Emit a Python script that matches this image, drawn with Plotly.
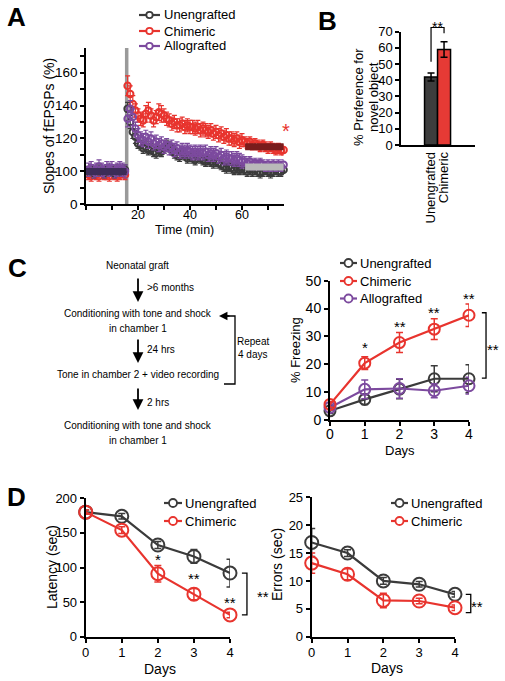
import plotly.graph_objects as go

W, H = 505, 681
FONT = "Liberation Sans, Arial, Helvetica, sans-serif"

C_UN = "#3b3b3b"
C_CH = "#e8342e"
C_AL = "#7c4a9e"

# ---------------- Panel A data (LTP time course) ----------------
series_names = ["Unengrafted", "Chimeric", "Allografted"]
t_base = list(range(1, 16))
t_post = list(range(16, 77))

ch_base = [98, 97, 99, 98, 97, 99, 98, 98, 97, 99, 98, 97, 98, 99, 98]
un_base = [100, 101, 99, 100, 101, 100, 99, 101, 100, 100, 99, 101, 100, 100, 101]
al_base = [101, 102, 100, 101, 103, 101, 100, 102, 101, 102, 100, 101, 102, 101, 100]

ch_post = [152, 147, 141, 137, 134, 132, 131, 135, 137, 134,
           131, 133, 136, 135, 134, 132, 131, 129, 130, 128,
           128, 129, 127, 128, 127, 127, 126, 127, 125, 126,
           125, 124, 125, 123, 124, 122, 123, 121, 122, 120,
           120, 119, 120, 118, 119, 118, 117, 118, 116, 117,
           116, 115, 116, 115, 114, 115, 114, 113, 114, 113, 113]
un_post = [138, 130, 124, 121, 117, 116, 114, 115, 113, 114,
           112, 111, 113, 112, 114, 116, 115, 113, 111, 110,
           109, 111, 110, 108, 109, 108, 107, 109, 108, 107,
           106, 107, 106, 105, 106, 105, 104, 103, 102, 103,
           102, 101, 102, 101, 102, 101, 100, 101, 100, 101,
           100, 99, 100, 101, 100, 99, 100, 101, 100, 100, 101]
al_post = [132, 138, 133, 126, 122, 120, 119, 121, 118, 120,
           117, 118, 116, 117, 115, 116, 114, 115, 113, 114,
           112, 113, 112, 113, 112, 111, 112, 111, 112, 111,
           112, 110, 111, 110, 111, 109, 110, 108, 109, 108,
           108, 107, 108, 107, 106, 106, 105, 106, 104, 105,
           104, 105, 104, 103, 104, 103, 104, 103, 104, 103, 104]

ch_base_err = [3] * 15
un_base_err = [3] * 15
al_base_err = [4] * 15
ch_post_err = [6, 5, 5, 4, 4, 4, 4, 5, 5, 4, 4, 4, 5, 5, 4, 4, 4, 4, 4, 4,
               4, 4, 4, 4, 4, 4, 4, 4, 4, 4, 4, 4, 4, 4, 4, 4, 4, 4, 4, 4,
               4, 4, 4, 4, 4, 3, 3, 3, 3, 3, 3, 3, 3, 3, 3, 3, 3, 3, 3, 3, 3]
un_post_err = [4, 4, 4, 4, 3, 3, 3, 3, 3, 3, 3, 3, 3, 3, 3, 3, 3, 3, 3, 3,
               3, 3, 3, 3, 3, 3, 3, 3, 3, 3, 3, 3, 3, 3, 3, 3, 3, 3, 3, 3,
               3, 3, 3, 3, 3, 3, 3, 3, 3, 3, 3, 3, 3, 3, 3, 3, 3, 3, 3, 3, 3]
al_post_err = [5, 5, 5, 4, 4, 4, 4, 4, 4, 4, 4, 4, 4, 4, 4, 4, 4, 4, 4, 4,
               4, 4, 4, 4, 4, 4, 4, 4, 4, 4, 4, 4, 4, 4, 4, 4, 4, 4, 4, 4,
               4, 4, 4, 4, 4, 3, 3, 3, 3, 3, 3, 3, 3, 3, 3, 3, 3, 3, 3, 3, 3]

# summary bars: (start, end, level)
base_bar = (0, 15.6, 100)
ch_end_bar = (61.2, 76.8, 115)
un_end_bar = (61.2, 76.8, 102.7)
tetanus_time = 15.65
a_star = (77.0, 126.5)

a_ytick_vals = [80, 90, 100, 110, 120, 130, 140, 150, 160, 170]
a_ytick_text = ["0", "", "100", "", "120", "", "140", "", "160", ""]
a_xtick_vals = [0, 10, 20, 30, 40, 50, 60, 70]
a_xtick_text = ["", "", "20", "", "40", "", "60", ""]

# ---------------- Panel B data ----------------
b_groups = ["Unengrafted", "Chimeric"]
b_values = [42, 59]
b_errors = [2.5, 4.8]

# ---------------- Panel C data ----------------
days = [0, 1, 2, 3, 4]
c_un = [3.3, 7.4, 11.1, 14.8, 14.8]
c_un_err = [1.0, 1.8, 3.5, 4.7, 5.0]
c_ch = [5.6, 20.4, 27.8, 32.6, 37.6]
c_ch_err = [1.0, 2.3, 3.6, 3.7, 4.0]
c_al = [4.5, 11.0, 11.3, 10.5, 12.3]
c_al_err = [1.0, 3.4, 3.5, 2.5, 3.0]
c_stars = ["", "*", "**", "**", "**"]
c_star_y = [None, 26.2, 33.7, 38.7, 43.7]

# ---------------- Panel D data ----------------
d_lat_un = [180, 174, 132.5, 116, 92]
d_lat_un_err = [3, 4, 5, 10, 20]
d_lat_ch = [180, 154, 91, 61.5, 31.5]
d_lat_ch_err = [3, 5, 12, 8, 4]
d_lat_stars = ["", "", "*", "**", "**"]
d_lat_star_y = [None, None, 112, 83.5, 49]

d_err_un = [16.9, 15.0, 10.0, 9.4, 7.6]
d_err_un_err = [2.5, 0.6, 0.6, 0.5, 0.5]
d_err_ch = [13.2, 11.2, 6.5, 6.4, 5.2]
d_err_ch_err = [1.8, 1.0, 1.3, 0.5, 0.5]

# ---------------- layout helpers ----------------
def px(x):
    return x / W


def py(y):
    return 1 - y / H


AX = {
    "A": dict(x=(86, 283.6), y=(204.3, 48), xr=(0, 76), yr=(80, 175)),
    "B": dict(x=(401, 475), y=(145, 31.7), xr=(-2.31, 3.38), yr=(0, 70)),
    "C": dict(x=(330, 469), y=(420, 280.7), xr=(0, 4), yr=(0, 50)),
    "D1": dict(x=(85.7, 230), y=(636.7, 498.3), xr=(0, 4), yr=(0, 200)),
    "D2": dict(x=(311.7, 455), y=(636.7, 497.3), xr=(0, 4), yr=(0, 25)),
}


def data_to_px(panel, xv, yv):
    a = AX[panel]
    x0, x1 = a["x"]
    y0, y1 = a["y"]
    r0, r1 = a["xr"]
    s0, s1 = a["yr"]
    X = x0 + (xv - r0) / (r1 - r0) * (x1 - x0)
    Y = y0 + (yv - s0) / (s1 - s0) * (y1 - y0)
    return X, Y


fig = go.Figure()
shapes = []
annotations = []


def text(t, x, y, size, angle=0, bold=False, xanchor="center", color="black"):
    annotations.append(dict(text=("<b>%s</b>" % t) if bold else t, x=px(x), y=py(y), xref="paper",
                            yref="paper", showarrow=False, textangle=angle, xanchor=xanchor,
                            yanchor="middle", font=dict(size=size, color=color, family=FONT)))


# ---------------- Panel A traces ----------------
def a_series(t, v, e, color, name):
    fig.add_trace(go.Scatter(
        x=t, y=v, mode="markers", name=name, showlegend=False,
        marker=dict(symbol="circle-open", size=6.5, color=color, line=dict(width=2, color=color)),
        error_y=dict(type="data", array=e, color=color, thickness=1.2, width=2.5),
        xaxis="x", yaxis="y", cliponaxis=False))


a_series(t_base + t_post, ch_base + ch_post, ch_base_err + ch_post_err, C_CH, "Chimeric")
a_series(t_base + t_post, un_base + un_post, un_base_err + un_post_err, C_UN, "Unengrafted")
a_series(t_base + t_post, al_base + al_post, al_base_err + al_post_err, C_AL, "Allografted")

for (s, e, lvl), col in [(base_bar, "#3d2c57"), (ch_end_bar, "#7a1c1c"), (un_end_bar, "#b9b9b9")]:
    fig.add_trace(go.Scatter(x=[s, e], y=[lvl, lvl], mode="lines", showlegend=False,
                             line=dict(color=col, width=7), xaxis="x", yaxis="y", hoverinfo="skip"))

tx, _ = data_to_px("A", tetanus_time, 100)
shapes.append(dict(type="line", xref="paper", yref="paper", x0=px(tx), x1=px(tx),
                   y0=py(AX["A"]["y"][0]), y1=py(AX["A"]["y"][1]),
                   line=dict(color="#9a9a9a", width=3.5), layer="below"))
sx, sy = data_to_px("A", *a_star)
text("*", sx, sy + 3, 20, color=C_CH)

# ---------------- Panel B ----------------
fig.add_trace(go.Bar(x=[0, 1], y=b_values, width=1, showlegend=False,
                     marker=dict(color=["#3d3d3d", "#e63a35"], line=dict(color="black", width=1.5)),
                     error_y=dict(type="data", array=b_errors, color="black", thickness=1.5, width=3.5),
                     xaxis="x2", yaxis="y2", cliponaxis=False))
bx0, by0 = data_to_px("B", 0, b_values[0] + b_errors[0] + 7)
bx1, by1 = data_to_px("B", 1, 69)
_, btop = data_to_px("B", 0, 72.6)
shapes.append(dict(type="path", xref="paper", yref="paper",
                   path=f"M {px(bx0)},{py(by0)} L {px(bx0)},{py(btop)} L {px(bx1)},{py(btop)} L {px(bx1)},{py(by1)}",
                   line=dict(color="black", width=1.2)))
text("**", (bx0 + bx1) / 2, btop - 0.5, 14)

# ---------------- Panel C right ----------------
def line_series(x, v, e, color, xa, ya, size):
    fig.add_trace(go.Scatter(
        x=x, y=v, mode="lines+markers", showlegend=False,
        line=dict(color=color, width=2.2),
        marker=dict(symbol="circle-open", size=size, color=color, line=dict(width=2, color=color)),
        error_y=dict(type="data", array=e, color=color, thickness=1.5, width=3.5),
        xaxis=xa, yaxis=ya, cliponaxis=False))


line_series(days, c_un, c_un_err, C_UN, "x3", "y3", 11)
line_series(days, c_al, c_al_err, C_AL, "x3", "y3", 11)
line_series(days, c_ch, c_ch_err, C_CH, "x3", "y3", 11)
for d, s, yv in zip(days, c_stars, c_star_y):
    if s:
        annotations.append(dict(text=s, x=d, y=yv, xref="x3", yref="y3", showarrow=False,
                                font=dict(size=15, color="black", family=FONT)))

# ---------------- Panel D ----------------
line_series(days, d_lat_un, d_lat_un_err, C_UN, "x4", "y4", 13)
line_series(days, d_lat_ch, d_lat_ch_err, C_CH, "x4", "y4", 13)
for d, s, yv in zip(days, d_lat_stars, d_lat_star_y):
    if s:
        annotations.append(dict(text=s, x=d, y=yv, xref="x4", yref="y4", showarrow=False,
                                font=dict(size=15, color="black", family=FONT)))
line_series(days, d_err_un, d_err_un_err, C_UN, "x5", "y5", 13)
line_series(days, d_err_ch, d_err_ch_err, C_CH, "x5", "y5", 13)


def bracket(panel, xa, xb, top, bot, star_x, star_y):
    X0, Y0 = data_to_px(panel, xa, top)
    X1, Y1 = data_to_px(panel, xb, bot)
    shapes.append(dict(type="path", xref="paper", yref="paper",
                       path=f"M {px(X0)},{py(Y0)} L {px(X1)},{py(Y0)} L {px(X1)},{py(Y1)} L {px(X0)},{py(Y1)}",
                       line=dict(color="black", width=1.3)))
    text("**", star_x, star_y, 15)


bracket("C", 4.37, 4.49, 38.5, 15.0, 493, 349)
bracket("D1", 4.33, 4.47, d_lat_un[-1], d_lat_ch[-1], 263, 596)
bracket("D2", 4.3, 4.44, d_err_un[-1], 4.3, 477, 606)

# ---------------- legends (manual) ----------------
def legend(names, colors, x0, x1, xt, ys, fs, r):
    for n, c, y in zip(names, colors, ys):
        shapes.append(dict(type="line", xref="paper", yref="paper", x0=px(x0), x1=px(x1),
                           y0=py(y), y1=py(y), line=dict(color=c, width=2.2)))
        xm = (x0 + x1) / 2
        shapes.append(dict(type="circle", xref="paper", yref="paper", x0=px(xm - r), x1=px(xm + r),
                           y0=py(y + r), y1=py(y - r), line=dict(color=c, width=1.8), fillcolor="white"))
        text(n, xt, y, fs, xanchor="left")


legend(series_names, [C_UN, C_CH, C_AL], 139, 160, 162, [15, 31, 46], 13, 3.2)
legend(series_names, [C_UN, C_CH, C_AL], 340, 357, 358, [263, 281, 298.5], 13, 4)
legend(series_names[:2], [C_UN, C_CH], 164, 182, 182.5, [503, 521], 13, 4)
legend(series_names[:2], [C_UN, C_CH], 391, 408, 408.5, [503, 521], 13, 4)

# ---------------- text labels ----------------
text("A", 16, 17, 26, bold=True)
text("B", 327, 21, 26, bold=True)
text("C", 17, 268, 26, bold=True)
text("D", 16, 497, 26, bold=True)

text("Slopes of fEPSPs (%)", 49, 126, 14, angle=-90)
text("Time (min)", 184, 230, 12.5)
text("% Preference for", 358, 97, 13, angle=-90)
text("novel object", 373, 97, 13, angle=-90)
text("% Freezing", 295, 350, 13, angle=-90)
text("Days", 400, 450, 13)
text("Latency (sec)", 52, 567, 14, angle=-90)
text("Days", 160, 669, 14)
text("Errors (sec)", 277, 565, 14, angle=-90)
text("Days", 387, 668, 14)

# ---------------- flowchart (panel C left) ----------------
FLOW_FS = 10
flow_lines = ["Neonatal graft",
              "Conditioning with tone and shock", "in chamber 1",
              "Tone in chamber 2 + video recording",
              "Conditioning with tone and shock", "in chamber 1"]
flow_lines_y = [265, 313, 328, 375, 425, 440]
flow_gaps = [">6 months", "24 hrs", "2 hrs"]
flow_arrows = [(277, 302, 288), (338, 363, 349), (387, 410, 402)]

for s, y in zip(flow_lines, flow_lines_y):
    text(s, 137.5, y, FLOW_FS)
for g, (ya, yb, yt) in zip(flow_gaps, flow_arrows):
    annotations.append(dict(text="", x=px(138), y=py(yb), ax=0, ay=-(yb - ya), xref="paper", yref="paper",
                            showarrow=True, arrowhead=2, arrowsize=1.2, arrowwidth=1.8, arrowcolor="black"))
    text(g, 145, yt, FLOW_FS, xanchor="left")

shapes.append(dict(type="path", xref="paper", yref="paper",
                   path=f"M {px(224)},{py(384)} L {px(235)},{py(384)} L {px(235)},{py(316)} L {px(225)},{py(316)}",
                   line=dict(color="black", width=1.3)))
annotations.append(dict(text="", x=px(219), y=py(316), ax=12, ay=0, xref="paper", yref="paper",
                        showarrow=True, arrowhead=2, arrowsize=1.3, arrowwidth=1.3, arrowcolor="black"))
text("Repeat", 252.5, 341, FLOW_FS)
text("4 days", 252.5, 354, FLOW_FS)

# ---------------- axes ----------------
def axis(panel, which, **kw):
    a = AX[panel]
    if which == "x":
        dom = [px(a["x"][0]), px(a["x"][1])]
        rng = list(a["xr"])
    else:
        dom = [py(a["y"][0]), py(a["y"][1])]
        rng = list(a["yr"])
    d = dict(domain=dom, range=rng, showgrid=False, zeroline=False, showline=True,
             linecolor="black", linewidth=1.5, ticks="outside", ticklen=4, tickwidth=1.5,
             tickcolor="black", fixedrange=True, automargin=False,
             tickfont=dict(size=13, color="black", family=FONT))
    d.update(kw)
    return d


fig.update_layout(
    template="none",
    width=W, height=H, margin=dict(l=0, r=0, t=0, b=0, pad=0, autoexpand=False),
    paper_bgcolor="white", plot_bgcolor="rgba(0,0,0,0)",
    showlegend=False,
    font=dict(family=FONT, color="black"),
    xaxis=axis("A", "x", anchor="y", tickmode="array", tickvals=a_xtick_vals, ticktext=a_xtick_text,
               ticklabelstandoff=-6, tickfont=dict(size=12.5, color="black", family=FONT)),
    yaxis=axis("A", "y", anchor="x", tickmode="array", tickvals=a_ytick_vals, ticktext=a_ytick_text,
               tickfont=dict(size=13.5, color="black", family=FONT)),
    xaxis2=axis("B", "x", anchor="y2", tickmode="array", tickvals=[0, 1], ticktext=b_groups,
                tickangle=-90, ticks=""),
    yaxis2=axis("B", "y", anchor="x2", tickmode="array", tickvals=[0, 10, 20, 30, 40, 50, 60, 70],
                tickfont=dict(size=13, color="black", family=FONT)),
    xaxis3=axis("C", "x", anchor="y3", tickmode="array", tickvals=days, linewidth=2, ticklabelstandoff=-4,
                tickfont=dict(size=14, color="black", family=FONT)),
    yaxis3=axis("C", "y", anchor="x3", tickmode="array", tickvals=[0, 10, 20, 30, 40, 50], linewidth=2,
                tickfont=dict(size=14, color="black", family=FONT)),
    xaxis4=axis("D1", "x", anchor="y4", tickmode="array", tickvals=days, linewidth=2, ticklabelstandoff=-1),
    yaxis4=axis("D1", "y", anchor="x4", tickmode="array", tickvals=[0, 50, 100, 150, 200], linewidth=2),
    xaxis5=axis("D2", "x", anchor="y5", tickmode="array", tickvals=days, linewidth=2, ticklabelstandoff=-1),
    yaxis5=axis("D2", "y", anchor="x5", tickmode="array", tickvals=[0, 5, 10, 15, 20, 25], linewidth=2),
    shapes=shapes,
    annotations=annotations,
)

fig.write_html("out.html", config={"displayModeBar": False},
               post_script="document.body.style.margin='0px';")
